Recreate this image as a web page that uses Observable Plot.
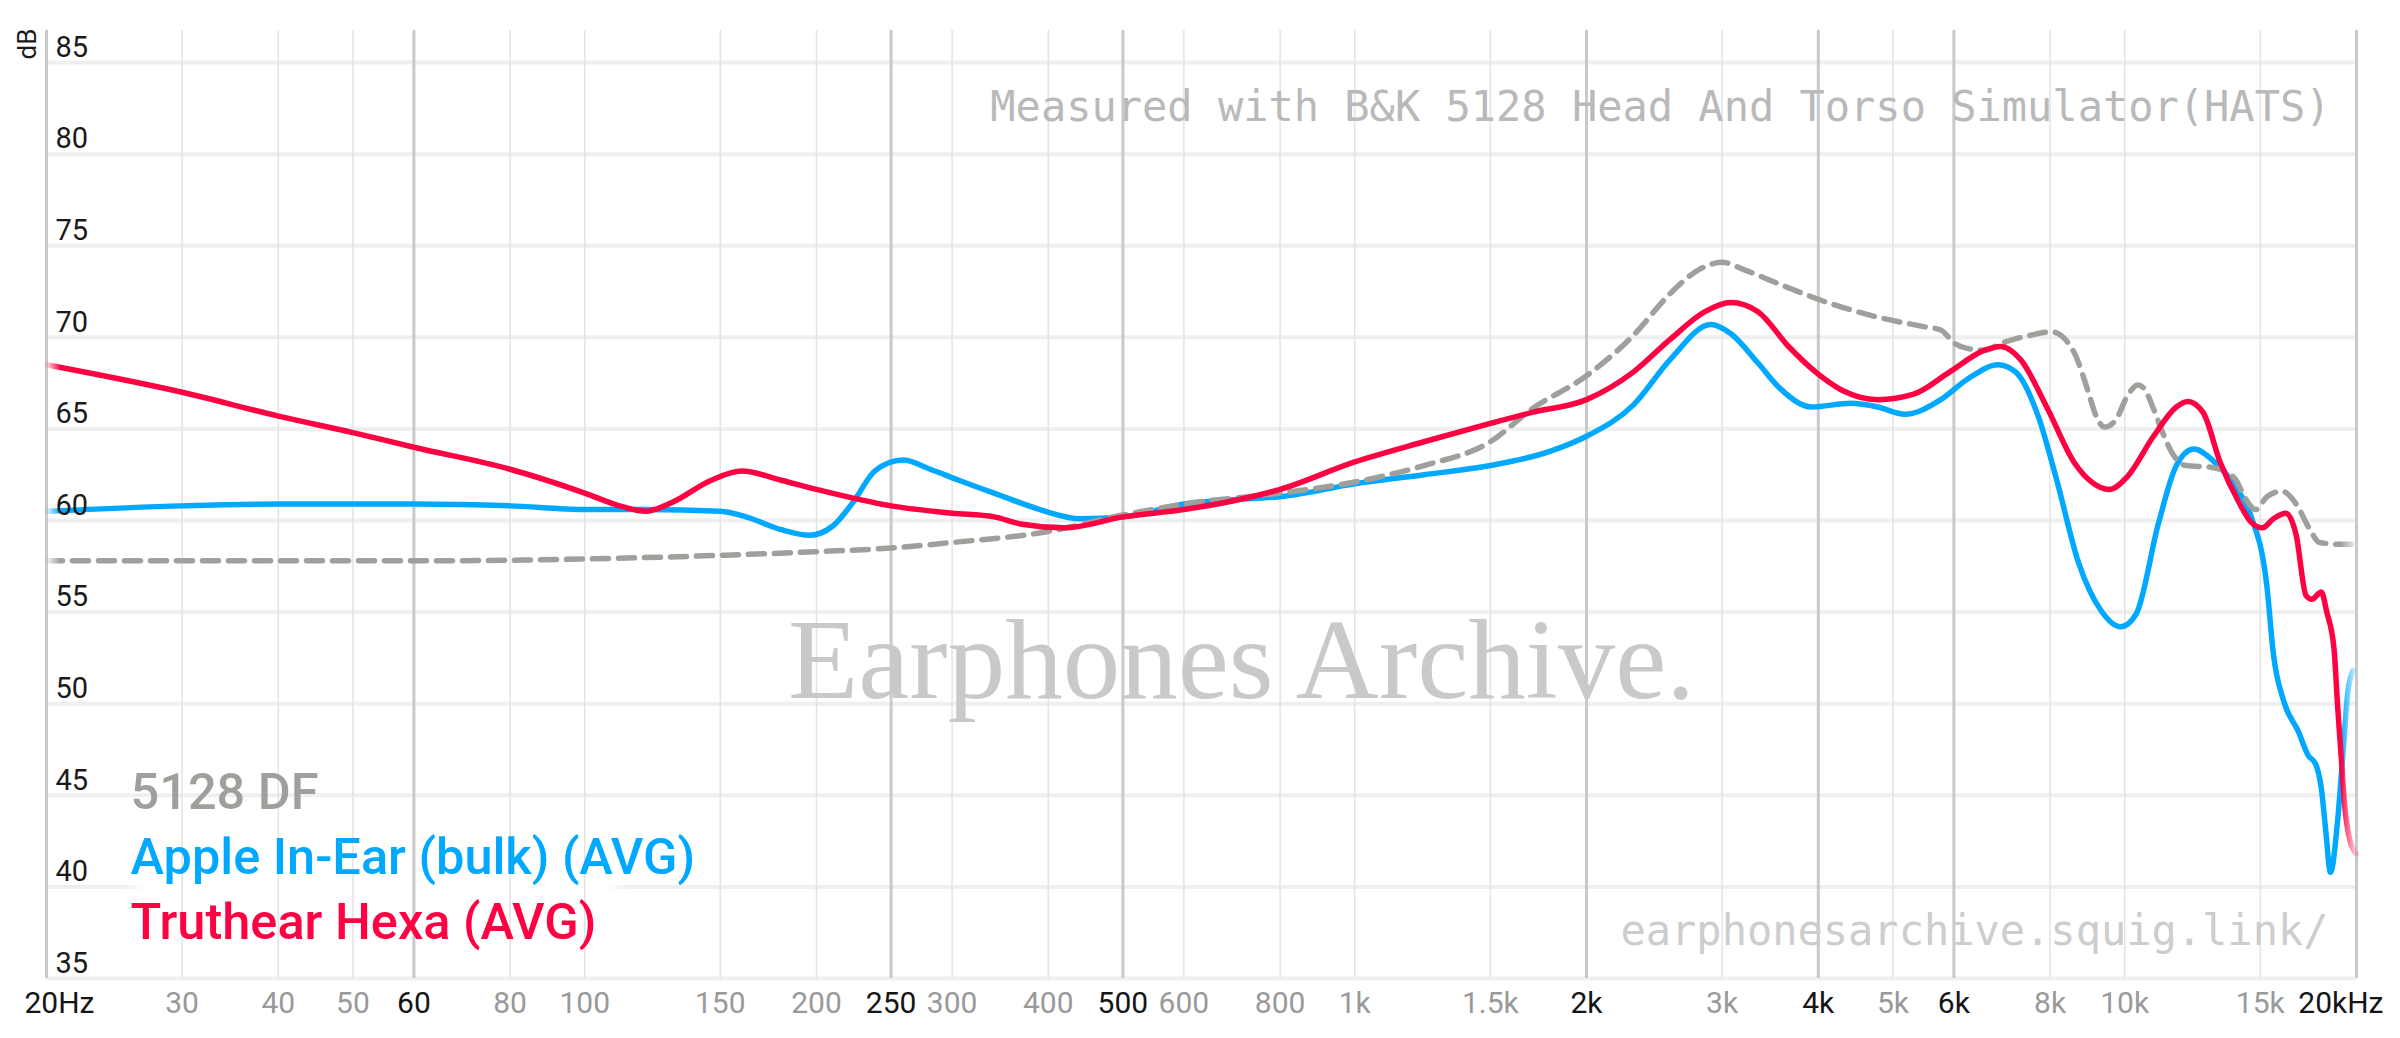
<!DOCTYPE html>
<html>
<head>
<meta charset="utf-8">
<script src="https://cdn.jsdelivr.net/npm/d3@7"></script>
<script src="https://cdn.jsdelivr.net/npm/@observablehq/plot@0.6"></script>
<style>
  html, body { margin: 0; padding: 0; background: #fff; }
  #chart svg { display: block; }
</style>
</head>
<body>
<div id="chart"></div>
<script>
// ---------- data ----------
const freqDF = [20, 40, 60, 100, 150, 200, 250, 300, 400, 500, 600, 800, 1000, 1230, 1500, 1700, 2000, 2300, 2570, 2800, 3000, 3200, 3660, 4180, 4780, 5460, 5770, 6000, 6240, 6580, 6940, 7520, 8040, 8590, 8830, 9000, 9180, 9420, 9740, 10080, 10400, 10600, 10900, 11200, 11600, 12000, 13000, 13900, 14300, 14800, 15300, 16000, 16700, 17400, 17900, 19200, 20000];
const dbDF = [57.8, 57.8, 57.8, 57.9, 58.1, 58.3, 58.5, 58.8, 59.4, 60.3, 60.9, 61.5, 62.1, 63.0, 64.3, 66.1, 67.9, 70.1, 72.4, 73.7, 74.1, 73.7, 72.7, 71.8, 71.1, 70.6, 70.4, 69.7, 69.4, 69.3, 69.7, 70.1, 70.3, 69.2, 67.9, 66.8, 65.7, 65.1, 65.5, 66.8, 67.4, 67.2, 66.1, 64.8, 63.5, 63.0, 62.9, 62.3, 61.3, 60.6, 61.3, 61.6, 60.9, 59.5, 58.8, 58.7, 58.7];

const freqApple = [20, 30, 40, 60, 80, 100, 120, 150, 162, 180, 196, 210, 224, 238, 259, 281, 306, 345, 390, 440, 500, 600, 735, 800, 1000, 1230, 1500, 1800, 2000, 2300, 2570, 2900, 3080, 3340, 3570, 3920, 4410, 4780, 5180, 5770, 6240, 6850, 7220, 7720, 8150, 8710, 9310, 9880, 10350, 11070, 11670, 12300, 13000, 13900, 14600, 15300, 15600, 16100, 16800, 17300, 17700, 18000, 18250, 18500, 18900, 19200, 19500, 19800];
const dbApple = [60.5, 60.8, 60.9, 60.9, 60.8, 60.6, 60.6, 60.5, 60.2, 59.5, 59.2, 59.7, 61.1, 62.7, 63.3, 62.8, 62.2, 61.4, 60.6, 60.1, 60.2, 60.9, 61.2, 61.3, 62.0, 62.5, 63.0, 63.8, 64.6, 66.3, 68.8, 70.7, 70.2, 68.6, 67.2, 66.2, 66.4, 66.2, 65.8, 66.6, 67.7, 68.5, 68.1, 65.7, 62.3, 57.7, 55.1, 54.2, 54.9, 59.9, 63.0, 63.9, 63.3, 61.9, 60.2, 56.4, 52.7, 50.1, 48.5, 47.2, 46.7, 45.4, 43.0, 40.8, 43.6, 47.2, 50.7, 51.8];

const freqHexa = [20, 30, 40, 50, 60, 80, 100, 111, 120, 130, 146, 160, 180, 200, 250, 300, 340, 370, 420, 500, 600, 735, 800, 1000, 1230, 1500, 1700, 2000, 2300, 2570, 2850, 3080, 3340, 3660, 3970, 4300, 4780, 5320, 5920, 6580, 6900, 7320, 7940, 8590, 9060, 9560, 10080, 10900, 11670, 12070, 12640, 13300, 14070, 14600, 15100, 15600, 16200, 16700, 17200, 17500, 18000, 18300, 18700, 18900, 19100, 19300, 19600, 20000];
const dbHexa = [68.5, 67.0, 65.7, 64.8, 64.0, 62.8, 61.5, 60.8, 60.5, 61.0, 62.2, 62.7, 62.2, 61.7, 60.8, 60.4, 60.2, 59.8, 59.6, 60.2, 60.6, 61.3, 61.7, 63.2, 64.3, 65.3, 65.9, 66.6, 68.1, 69.9, 71.4, 71.9, 71.4, 69.5, 68.1, 67.1, 66.6, 66.9, 68.1, 69.3, 69.5, 68.8, 66.1, 63.2, 62.1, 61.7, 62.4, 64.6, 66.2, 66.5, 65.9, 63.2, 61.0, 59.9, 59.6, 60.1, 60.4, 59.2, 55.9, 55.7, 56.1, 55.0, 53.0, 49.9, 47.2, 44.5, 42.6, 41.8];

const yTicks = [35, 40, 45, 50, 55, 60, 65, 70, 75, 80, 85];
const majorFreqs = [20, 60, 250, 500, 2000, 4000, 6000, 20000];
const majorLabels = ["20Hz", "60", "250", "500", "2k", "4k", "6k", "20kHz"];
const minorFreqs = [30, 40, 50, 80, 100, 150, 200, 300, 400, 600, 800, 1000, 1500, 3000, 5000, 8000, 10000, 15000];
const minorLabels = ["30", "40", "50", "80", "100", "150", "200", "300", "400", "600", "800", "1k", "1.5k", "3k", "5k", "8k", "10k", "15k"];

const seriesNames = ["5128 DF", "Apple In-Ear (bulk) (AVG)", "Truthear Hexa (AVG)"];
const seriesColors = ["#9ea19b", "#00a9ff", "#ff0042"];

const titleText = "Measured with B&K 5128 Head And Torso Simulator(HATS)";
const urlText = "earphonesarchive.squig.link/";
const watermarkText = "Earphones Archive.";

// ---------- tables ----------
const rows = (fs, ds) => fs.map((f, i) => ({f, db: ds[i]}));
const dfRows = rows(freqDF, dbDF);
const appleRows = rows(freqApple, dbApple);
const hexaRows = rows(freqHexa, dbHexa);
const majorRows = majorFreqs.map((f, i) => ({f, label: majorLabels[i]}));
const minorRows = minorFreqs.map((f, i) => ({f, label: minorLabels[i]}));
const innerMajor = majorRows.slice(1, -1);

const sans = "Roboto, 'Noto Sans', 'DejaVu Sans', sans-serif";
const mono = "'DejaVu Sans Mono', 'Liberation Mono', monospace";
const serif = "'Liberation Serif', 'DejaVu Serif', serif";

const legendDx = 84;

const chart = Plot.plot({
  width: 2400,
  height: 1038,
  marginLeft: 46,
  marginRight: 44,
  marginTop: 30,
  marginBottom: 60,
  x: {type: "log", domain: [20, 20000], axis: null},
  y: {domain: [35, 86.75], axis: null},
  style: {fontFamily: sans, background: "#fff", overflow: "visible"},
  marks: [
    // grid
    Plot.ruleY(yTicks, {stroke: "#efefef", strokeWidth: 4}),
    Plot.ruleX(minorFreqs, {stroke: "#e3e3e3", strokeWidth: 1.5}),
    Plot.ruleX(majorFreqs, {stroke: "#c9c9c9", strokeWidth: 3}),
    // watermark + annotations
    Plot.text([watermarkText], {text: d => d, frameAnchor: "top", dx: 40, dy: 667, lineAnchor: "bottom",
      fontFamily: serif, fontSize: 115, fill: "#c9c9c9"}),
    Plot.text([titleText], {text: d => d, frameAnchor: "top-right", dx: -26, dy: 77, textAnchor: "end", lineAnchor: "middle",
      fontFamily: mono, fontSize: 42, fill: "#b9b9b9"}),
    Plot.text([urlText], {text: d => d, frameAnchor: "bottom-right", dx: -28, dy: -47, textAnchor: "end", lineAnchor: "middle",
      fontFamily: mono, fontSize: 42, fill: "#cdcdcd"}),
    // curves
    Plot.line(appleRows, {x: "f", y: "db", stroke: seriesColors[1], strokeWidth: 5.5, curve: "monotone-x"}),
    Plot.line(dfRows, {x: "f", y: "db", stroke: seriesColors[0], strokeWidth: 5.5, strokeDasharray: "16,10", curve: "monotone-x"}),
    Plot.line(hexaRows, {x: "f", y: "db", stroke: seriesColors[2], strokeWidth: 5.5, curve: "monotone-x"}),
    // y tick labels
    Plot.text(yTicks, {x: 20, y: d => d, text: d => String(d), dx: 9, dy: -15, textAnchor: "start", lineAnchor: "middle",
      fontSize: 29, fill: "#1a1a1a"}),
    Plot.text(["dB"], {text: d => d, frameAnchor: "top-left", dx: -19, dy: 29, rotate: -90, lineAnchor: "middle",
      fontSize: 26, fill: "#1a1a1a"}),
    // x tick labels
    Plot.text(minorRows, {x: "f", text: "label", frameAnchor: "bottom", dy: 25, lineAnchor: "middle",
      fontSize: 30, fill: "#999"}),
    Plot.text(innerMajor, {x: "f", text: "label", frameAnchor: "bottom", dy: 25, lineAnchor: "middle",
      fontSize: 30, fill: "#151515"}),
    Plot.text(majorRows.slice(0, 1), {x: "f", text: "label", frameAnchor: "bottom", dx: -22, dy: 25, textAnchor: "start", lineAnchor: "middle",
      fontSize: 30, fill: "#151515"}),
    Plot.text(majorRows.slice(-1), {x: "f", text: "label", frameAnchor: "bottom", dx: 27, dy: 25, textAnchor: "end", lineAnchor: "middle",
      fontSize: 30, fill: "#151515"}),
    // legend
    ...seriesNames.map((name, i) => Plot.text([name], {text: d => d, frameAnchor: "bottom-left", dx: legendDx, dy: -186 + 65 * i,
      textAnchor: "start", lineAnchor: "middle", fontSize: 50.5, fontWeight: 500, fill: seriesColors[i]}))
  ]
});

// ---------- finishing touches ----------
const ns = "http://www.w3.org/2000/svg";
const defs = document.createElementNS(ns, "defs");
defs.innerHTML = `
  <linearGradient id="fadeGrad" gradientUnits="userSpaceOnUse" x1="46" y1="0" x2="2356" y2="0">
    <stop offset="0" stop-color="#fff" stop-opacity="0.1"/>
    <stop offset="0.006" stop-color="#fff" stop-opacity="1"/>
    <stop offset="0.993" stop-color="#fff" stop-opacity="1"/>
    <stop offset="1" stop-color="#fff" stop-opacity="0.15"/>
  </linearGradient>
  <mask id="fadeMask" maskUnits="userSpaceOnUse" x="0" y="0" width="2400" height="1038">
    <rect x="0" y="0" width="2400" height="1038" fill="url(#fadeGrad)"/>
  </mask>
  <filter id="soft" x="-20%" y="-200%" width="140%" height="500%">
    <feGaussianBlur stdDeviation="7"/>
  </filter>`;
chart.insertBefore(defs, chart.firstChild);
chart.querySelectorAll('g[aria-label="line"]').forEach(g => g.setAttribute("mask", "url(#fadeMask)"));

// soft white patch behind the legend that hides the 40 dB grid line (as in the original)
const yScale = chart.scale("y");
const xScale = chart.scale("x");
const gy = yScale.apply(40);
const x0 = xScale.apply(20) + legendDx - 2;
const patch = document.createElementNS(ns, "rect");
patch.setAttribute("x", x0 + 8);
patch.setAttribute("y", gy - 13);
patch.setAttribute("width", 480);
patch.setAttribute("height", 26);
patch.setAttribute("fill", "#fff");
patch.setAttribute("filter", "url(#soft)");
const firstRule = chart.querySelector('g[aria-label="rule"]');
firstRule.parentNode.insertBefore(patch, firstRule.nextSibling);

document.getElementById("chart").appendChild(chart);
</script>
</body>
</html>
